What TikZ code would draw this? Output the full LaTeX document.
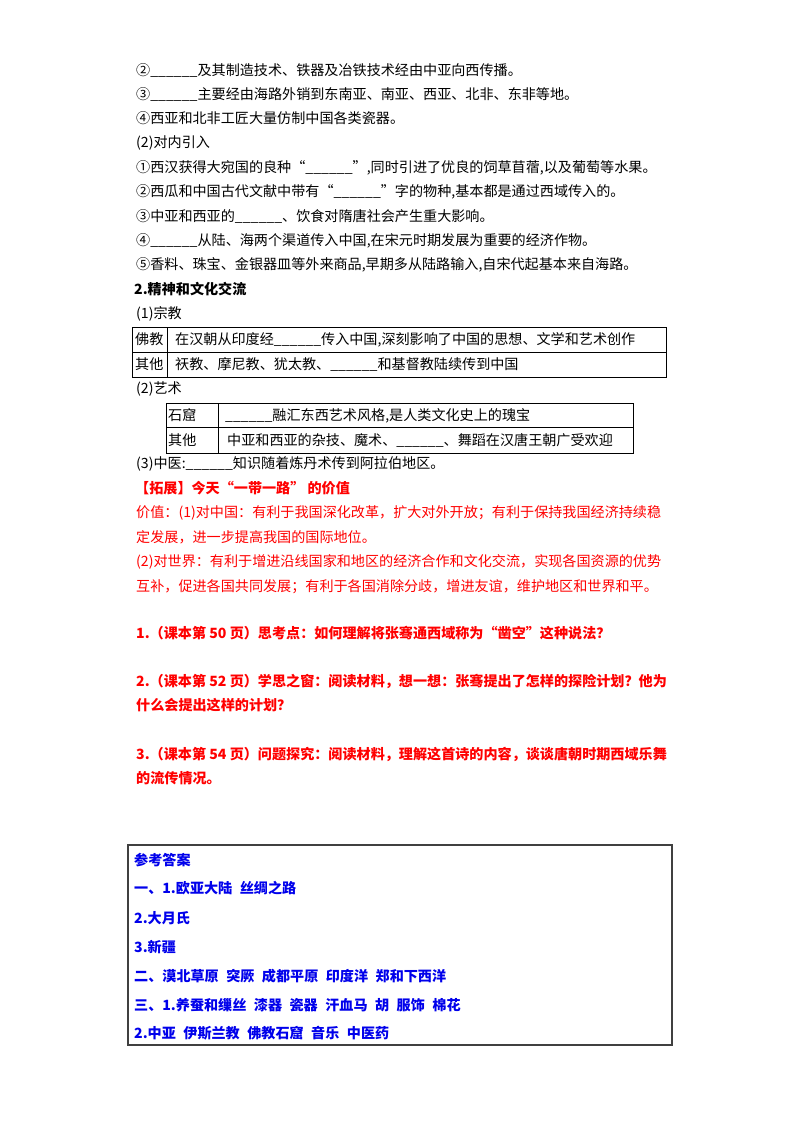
\documentclass[tikz,border=0pt]{standalone}
\usepackage{fontspec}
\newfontfamily\cjk{Noto Sans CJK SC}
\definecolor{ansblue}{RGB}{0,0,235}
\definecolor{tred}{RGB}{255,0,0}
\newcommand\bk{\_\_\_\_\_\_}
\newcommand\ansfont{\cjk\bfseries\fontsize{14.1}{17}\selectfont\spaceskip 7.5pt\relax}
\tikzset{
  ln/.style={anchor=base west, inner sep=0pt, font=\cjk\fontsize{14.1}{17}\selectfont},
  lnb/.style={ln, font=\cjk\bfseries\fontsize{14.1}{17}\selectfont},
  redln/.style={ln, text=tred},
  redb/.style={lnb, text=tred},
  ans/.style={anchor=base west, inner sep=0pt, text=ansblue, font=\ansfont},
  tbl/.style={draw=black, line width=1pt},
  abox/.style={draw=black!75, line width=1.3pt}
}
\begin{document}
\begin{tikzpicture}[x=1pt,y=-1pt]
\fill[white] (0,0) rectangle (800,1132);
\useasboundingbox (0,0) rectangle (800,1132);
% part 1
\node[ln] (l1) at (136,75) {②\bk{}及其制造技术、铁器及冶铁技术经由中亚向西传播。};
\node[ln] (l2) at (136,99.5) {③\bk{}主要经由海路外销到东南亚、南亚、西亚、北非、东非等地。};
\node[ln] (l3) at (136,123.5) {④西亚和北非工匠大量仿制中国各类瓷器。};
\node[ln] (l4) at (136,147.5) {(2)对内引入};
\node[ln] (l5) at (136,172) {①西汉获得大宛国的良种“\bk{}”,同时引进了优良的饲草苜蓿,以及葡萄等水果。};
\node[ln] (l6) at (136,196.5) {②西瓜和中国古代文献中带有“\bk{}”字的物种,基本都是通过西域传入的。};
\node[ln] (l7) at (136,221) {③中亚和西亚的\bk{}、饮食对隋唐社会产生重大影响。};
\node[ln] (l8) at (136,245) {④\bk{}从陆、海两个渠道传入中国,在宋元时期发展为重要的经济作物。};
\node[ln] (l9) at (136,269.5) {⑤香料、珠宝、金银器皿等外来商品,早期多从陆路输入,自宋代起基本来自海路。};
\node[lnb] (h2) at (134,294) {2.精神和文化交流};
\node[ln] (r1) at (136,318) {(1)宗教};
% table 1
\draw[tbl] (132,327) rectangle (666,377);
\draw[tbl] (132,352) -- (666,352);
\draw[tbl] (167,327) -- (167,377);
\node[ln] (t1a) at (135,344.5) {佛教};
\node[ln] (t1b) at (175,344.5) {在汉朝从印度经\bk{}传入中国,深刻影响了中国的思想、文学和艺术创作};
\node[ln] (t1c) at (135,369.5) {其他};
\node[ln] (t1d) at (175,369.5) {祆教、摩尼教、犹太教、\bk{}和基督教陆续传到中国};
\node[ln] (r2) at (136,393) {(2)艺术};
% table 2
\draw[tbl] (166,403) rectangle (633,453);
\draw[tbl] (166,427) -- (633,427);
\draw[tbl] (218,403) -- (218,453);
\node[ln] (t2a) at (168,420) {石窟};
\node[ln] (t2b) at (225,420) {\bk{}融汇东西艺术风格,是人类文化史上的瑰宝};
\node[ln] (t2c) at (168,445) {其他};
\node[ln] (t2d) at (227,445) {中亚和西亚的杂技、魔术、\bk{}、舞蹈在汉唐王朝广受欢迎};
\node[ln] (r3) at (136,468) {(3)中医:\bk{}知识随着炼丹术传到阿拉伯地区。};
% red extension
\node[redb] (e0) at (135,493) {【拓展】今天“一带一路” 的价值};
\node[redln] (e1) at (136,517.5) {价值：(1)对中国：有利于我国深化改革，扩大对外开放；有利于保持我国经济持续稳};
\node[redln] (e2) at (136,542) {定发展，进一步提高我国的国际地位。};
\node[redln] (e3) at (136,566) {(2)对世界：有利于增进沿线国家和地区的经济合作和文化交流，实现各国资源的优势};
\node[redln] (e4) at (136,591) {互补，促进各国共同发展；有利于各国消除分歧，增进友谊，维护地区和世界和平。};
% questions
\node[redb] (q1) at (136,638) {1.（课本第 50 页）思考点：如何理解将张骞通西域称为“凿空”这种说法？};
\node[redb] (q2) at (136,686) {2.（课本第 52 页）学思之窗：阅读材料，想一想：张骞提出了怎样的探险计划？他为};
\node[redb] (q2b) at (136,710) {什么会提出这样的计划？};
\node[redb] (q3) at (136,759) {3.（课本第 54 页）问题探究：阅读材料，理解这首诗的内容，谈谈唐朝时期西域乐舞};
\node[redb] (q3b) at (136,783) {的流传情况。};
% answer box
\draw[abox] (128,845) rectangle (672,1045);
\node[ans] (a0) at (134,865) {参考答案};
\node[ans] (a1) at (134,893) {一、1.欧亚大陆 丝绸之路};
\node[ans] (a2) at (134,923) {2.大月氏};
\node[ans] (a3) at (134,952) {3.新疆};
\node[ans] (a4) at (134,981) {二、漠北草原 突厥 成都平原 印度洋 郑和下西洋};
\node[ans] (a5) at (134,1010) {三、1.养蚕和缫丝 漆器 瓷器 汗血马 胡 服饰 棉花};
\node[ans] (a6) at (134,1038) {2.中亚 伊斯兰教 佛教石窟 音乐 中医药};
\end{tikzpicture}
\end{document}
